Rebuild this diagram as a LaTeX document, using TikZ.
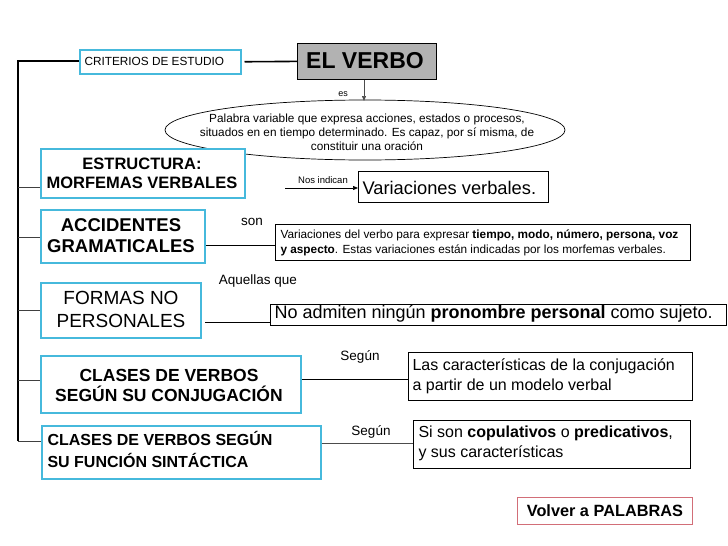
\documentclass[tikz,border=0pt]{standalone}
\usepackage{fontspec}
\setmainfont{Liberation Sans}
\usetikzlibrary{shapes.geometric,arrows.meta}
\definecolor{cy}{RGB}{70,185,220}
\definecolor{rd}{RGB}{210,110,120}
\tikzset{
 cbox/.style={draw=cy,line width=2pt,fill=white,inner sep=0pt},
 wbox/.style={draw=black,line width=0.8pt,fill=white,inner sep=0pt},
 ln/.style={line width=0.7pt},
 lab/.style={inner sep=0pt}
}
\begin{document}
\begin{tikzpicture}[x=1pt,y=-1pt]
\useasboundingbox[fill=white] (0,0) rectangle (728,546);
% trunk
\coordinate (t0) at (18,61);
\coordinate (t5) at (18,441);
\draw[line width=1.6pt] (t5) -- (t0) -- (79,61);
% boxes
\node[cbox,minimum width=161pt,minimum height=24pt,anchor=north west,line width=1.5pt] (crit) at (79,49) {};
\node[anchor=west,font=\fontsize{11.8}{13}\selectfont] at (81,61) {CRITERIOS DE ESTUDIO};
\node[draw=black,fill=gray!60,line width=0.8pt,minimum width=139pt,minimum height=36pt,anchor=north west] (verbo) at (297,43) {};
\node[font=\fontsize{23}{26}\bfseries\selectfont] at (365,61) {EL VERBO};
\draw[line width=1.6pt] (crit.east)++(3,0) -- (verbo.west);
\node[ellipse,draw,line width=0.7pt,minimum width=400pt,minimum height=60pt,inner sep=0pt] (ell) at (365,130) {};
\node[align=center,font=\fontsize{11.8}{14}\selectfont] at (367,132) {Palabra variable que expresa acciones, estados o procesos,\\situados en en tiempo determinado. Es capaz, por sí misma, de\\constituir una oración};
\draw[ln,-{Triangle[length=5pt,width=4pt]},gray!60!black] (verbo.south -| 364,0) -- (364,101);
\node[font=\fontsize{9}{10}\selectfont] at (343,94) {es};
% estructura
\node[cbox,minimum width=204pt,minimum height=49pt,anchor=north west] (est) at (40,148) {};
\node[align=center,font=\fontsize{16.5}{19}\bfseries\selectfont] at (142,173) {ESTRUCTURA:\\MORFEMAS VERBALES};
\node[wbox,minimum width=190pt,minimum height=31pt,anchor=north west] (varv) at (358,171) {};
\node[anchor=west,font=\fontsize{18.3}{20}\selectfont] at (359,188) {Variaciones verbales.};
\coordinate (ni) at (285,188);
\draw[ln,-{Triangle[length=5pt,width=4pt]}] (ni) -- (varv.west |- ni);
\node[font=\fontsize{9.5}{10}\selectfont] at (323,180) {Nos indican};
% accidentes
\node[cbox,minimum width=164pt,minimum height=53pt,anchor=north west] (acc) at (40,209) {};
\node[align=center,font=\fontsize{18.5}{21}\bfseries\selectfont] at (121,236) {ACCIDENTES\\GRAMATICALES};
\node[wbox,minimum width=415pt,minimum height=36pt,anchor=north west] (vdv) at (275,224) {};
\node[anchor=north west,align=left,font=\fontsize{11.8}{15}\selectfont] at (277,226) {Variaciones del verbo para expresar \textbf{tiempo, modo, número, persona, voz}\\\textbf{y aspecto}. Estas variaciones están indicadas por los morfemas verbales.};
\draw[ln] (acc.east |- 0,245) -- (vdv.west |- 0,245);
\node[font=\fontsize{13.5}{14}\selectfont] at (252,222) {son};
% formas
\node[cbox,minimum width=160pt,minimum height=55pt,anchor=north west] (for) at (40,282) {};
\node[align=center,font=\fontsize{19}{23}\selectfont] at (121,309) {FORMAS NO\\PERSONALES};
\node[wbox,minimum width=456pt,minimum height=21pt,anchor=north west] (noa) at (270,304) {};
\node[anchor=west,font=\fontsize{18}{18}\selectfont] at (271,314) {No admiten ningún \textbf{pronombre personal} como sujeto.};
\draw[ln] (205,322) -- (noa.west |- 0,322);
\node[font=\fontsize{13.5}{14}\selectfont] at (258,281) {Aquellas que};
% clases conj
\node[cbox,minimum width=260pt,minimum height=57pt,anchor=north west] (cc) at (40,355) {};
\node[align=center,font=\fontsize{17.5}{20}\bfseries\selectfont] at (169,385) {CLASES DE VERBOS\\SEGÚN SU CONJUGACIÓN};
\node[wbox,minimum width=284pt,minimum height=48pt,anchor=north west] (lc) at (408,352) {};
\node[anchor=north west,align=left,font=\fontsize{16}{20}\selectfont] at (409,355) {Las características de la conjugación\\a partir de un modelo verbal};
\draw[ln] (cc.east |- 0,379) -- (lc.west |- 0,379);
\node[font=\fontsize{13.5}{14}\selectfont] at (360,357) {Según};
% clases sint
\node[cbox,minimum width=279pt,minimum height=53pt,anchor=north west] (cs) at (41,425) {};
\node[anchor=north west,align=left,font=\fontsize{16}{22}\bfseries\selectfont] at (44,428) {CLASES DE VERBOS SEGÚN\\SU FUNCIÓN SINTÁCTICA};
\node[wbox,minimum width=277pt,minimum height=48pt,anchor=north west] (ss) at (413,420) {};
\node[anchor=north west,align=left,font=\fontsize{16}{20}\selectfont] at (415,422) {Si son \textbf{copulativos} o \textbf{predicativos},\\y sus características};
\draw[ln,gray!60!black] (cs.east |- 0,443) -- (ss.west |- 0,443);
\node[font=\fontsize{13.5}{14}\selectfont] at (371,432) {Según};
% stubs
\draw[line width=1pt,gray!50!black] (18,187) -- (40,187);
\draw[line width=1pt,gray!50!black] (18,237) -- (40,237);
\draw[line width=1pt,gray!50!black] (18,310) -- (40,310);
\draw[line width=1pt,gray!50!black] (18,380) -- (40,380);
\draw[line width=1pt,gray!50!black] (18,441) -- (41,441);
% volver
\node[draw=rd,line width=0.8pt,minimum width=175pt,minimum height=27pt,anchor=north west,font=\fontsize{16.3}{18}\bfseries\selectfont] (vol) at (517,497) {Volver a PALABRAS};
\end{tikzpicture}
\end{document}
